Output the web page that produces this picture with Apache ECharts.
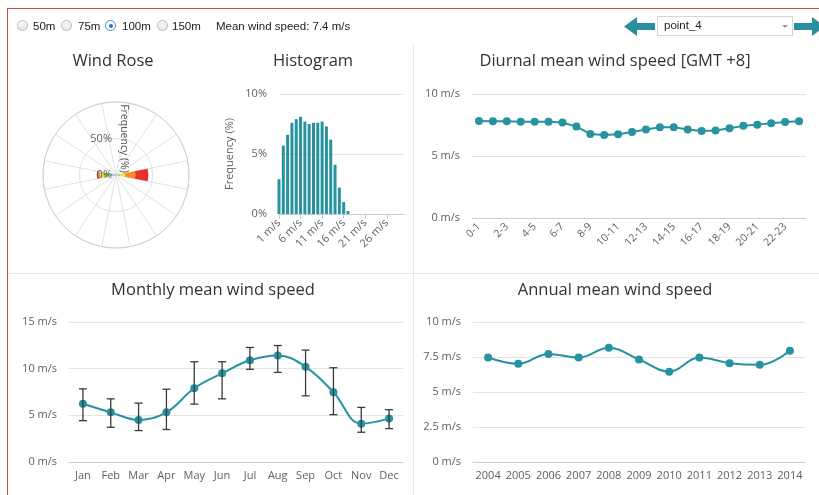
<!DOCTYPE html>
<html>
<head>
<meta charset="utf-8">
<script src="https://cdn.jsdelivr.net/npm/echarts@6/dist/echarts.min.js"></script>
<style>
html,body{margin:0;padding:0;background:#fff;}
#wrap{position:relative;width:819px;height:495px;overflow:hidden;font-family:'Liberation Sans',Arial,sans-serif;background:#fff;}
#chart{position:absolute;left:0;top:0;width:819px;height:495px;}
.frame{position:absolute;left:7px;top:8px;width:830px;height:500px;border-left:1.5px solid #c0504d;border-top:1.5px solid #c0504d;pointer-events:none;}
.vdiv{position:absolute;left:413px;top:45px;width:1px;height:450px;background:#dfe7ef;}
.hdiv{position:absolute;left:8px;top:273px;width:811px;height:1px;background:#dfe7ef;}
.radio{position:absolute;width:11px;height:11px;border-radius:50%;border:1px solid #b8b8b8;background:linear-gradient(#fafafa,#e6e6e6);box-sizing:border-box;}
.radio.sel{border:1px solid #3c8ad8;background:#fff;}
.radio.sel::after{content:'';position:absolute;left:2.5px;top:2.5px;width:4px;height:4px;border-radius:50%;background:#2f6fb5;}
.lbl{position:absolute;font-size:11.5px;color:#222;line-height:14px;}
.select{position:absolute;left:657px;top:16px;width:136px;height:20px;border:1px solid #d4d4d4;box-sizing:border-box;background:#fff;}
.select span{position:absolute;left:6px;top:2px;font-size:11.5px;color:#222;}
.caret{position:absolute;left:124px;top:8px;width:0;height:0;border-left:3px solid transparent;border-right:3px solid transparent;border-top:3px solid #999;}
svg.arrow{position:absolute;}
</style>
</head>
<body>
<div id="wrap">
  <div id="chart"></div>
  <div class="vdiv"></div>
  <div class="hdiv"></div>
  <div class="frame"></div>
  <div class="radio" style="left:17px;top:20px;"></div><div class="lbl" style="left:33px;top:19px;">50m</div>
  <div class="radio" style="left:61px;top:20px;"></div><div class="lbl" style="left:78px;top:19px;">75m</div>
  <div class="radio sel" style="left:105px;top:20px;"></div><div class="lbl" style="left:122px;top:19px;">100m</div>
  <div class="radio" style="left:157px;top:20px;"></div><div class="lbl" style="left:172px;top:19px;">150m</div>
  <div class="lbl" style="left:216px;top:19px;">Mean wind speed: 7.4 m/s</div>
  <svg class="arrow" style="left:624px;top:17px;" width="32" height="19" viewBox="0 0 32 19"><polygon points="0,9.5 13,0 13,6 31,6 31,13 13,13 13,19" fill="#2a8e9c"/></svg>
  <div class="select"><span>point_4</span><div class="caret"></div></div>
  <svg class="arrow" style="left:794px;top:17px;" width="32" height="19" viewBox="0 0 32 19"><polygon points="31,9.5 18,0 18,6 0,6 0,13 18,13 18,19" fill="#2a8e9c"/></svg>
</div>
<script>
// ---------- DATA ----------
const directions = ['N','NNE','NE','ENE','E','ESE','SE','SSE','S','SSW','SW','WSW','W','WNW','NW','NNW'];
const speedBins = ['< 2 m/s','2-4 m/s','4-6 m/s','6-8 m/s','8-10 m/s','> 10 m/s'];
const roseBin0 = [0.3,0.2,0.2,0.4,1.5,0.4,0.2,0.2,0.4,0.2,0.2,0.4,4.0,0.4,0.2,0.2];
const roseBin1 = [0.2,0.1,0.1,0.5,3.0,0.5,0.1,0.1,0.2,0.1,0.1,0.5,5.0,0.4,0.1,0.1];
const roseBin2 = [0.1,0,0,0.3,1.0,0.3,0,0,0.1,0,0,0.4,8.4,0.3,0,0];
const roseBin3 = [0,0,0,0.2,7.0,0.2,0,0,0,0,0,0.2,4.5,0.2,0,0];
const roseBin4 = [0,0,0,0.1,14.0,0.1,0,0,0,0,0,0.1,2.3,0.1,0,0];
const roseBin5 = [0,0,0,0,17.8,0,0,0,0.1,0,0,0,2.2,0,0,0];

const histSpeeds = [1,2,3,4,5,6,7,8,9,10,11,12,13,14,15,16,17];
const histFreq = [2.9,5.7,6.6,7.6,7.9,8.1,7.7,7.5,7.6,7.6,7.7,7.3,6.2,4.1,2.2,1.0,0.25];
const histTicks = [1,6,11,16,21,26];

const hours = ['0-1','1-2','2-3','3-4','4-5','5-6','6-7','7-8','8-9','9-10','10-11','11-12','12-13','13-14','14-15','15-16','16-17','17-18','18-19','19-20','20-21','21-22','22-23','23-24'];
const diurnalSpeed = [7.83,7.8,7.8,7.77,7.77,7.77,7.7,7.37,6.78,6.7,6.76,6.94,7.13,7.32,7.32,7.13,7.02,7.05,7.24,7.43,7.53,7.64,7.75,7.8];

const months = ['Jan','Feb','Mar','Apr','May','Jun','Jul','Aug','Sep','Oct','Nov','Dec'];
const monthlyMean = [6.24,5.32,4.5,5.32,7.9,9.5,10.9,11.42,10.2,7.48,4.11,4.65];
const monthlyHigh = [7.84,6.77,6.31,7.8,10.74,10.74,12.27,12.48,11.99,10.1,5.85,5.6];
const monthlyLow  = [4.43,3.72,3.37,3.48,6.2,6.77,9.93,9.6,7.09,5.07,3.19,3.58];

const years = ['2004','2005','2006','2007','2008','2009','2010','2011','2012','2013','2014'];
const annualMean = [7.46,7.01,7.72,7.46,8.16,7.32,6.45,7.46,7.06,6.94,7.95];

// ---------- STYLE ----------
const TEAL = '#2893a0';
const roseColors = ['#3d8fd6','#5cc8d2','#8cc63e','#f2e33a','#f28f1e','#e8302d'];
const titleFont = {fontFamily:'Open Sans', fontSize:16.5, fontWeight:'normal', color:'#333'};
const lblFont = {fontFamily:'Open Sans', fontSize:11, color:'#606060'};
const axisLineCol = '#c0d0e0';
const gridCol = '#e4e4e4';

const chart = echarts.init(document.getElementById('chart'), null, {renderer:'canvas'});

function catX(gridIndex, data, extra) {
  return Object.assign({
    type:'category', gridIndex, data, boundaryGap:true,
    axisLine:{lineStyle:{color:axisLineCol}},
    axisTick:{lineStyle:{color:axisLineCol}, length:5},
    axisLabel:Object.assign({}, lblFont, {margin:8, interval:0}),
    splitLine:{show:false}
  }, extra||{});
}
function valY(gridIndex, max, interval, fmt, extra) {
  return Object.assign({
    type:'value', gridIndex, min:0, max, interval,
    axisLine:{show:false}, axisTick:{show:false},
    axisLabel:Object.assign({}, lblFont, {margin:12, formatter:fmt}),
    splitLine:{lineStyle:{color:gridCol}}
  }, extra||{});
}

const roseBins = [roseBin0, roseBin1, roseBin2, roseBin3, roseBin4, roseBin5];

const option = {
  animation:false,
  backgroundColor:'transparent',
  title:[
    {text:'Wind Rose', left:113, top:53, textAlign:'center', padding:0, textStyle:titleFont},
    {text:'Histogram', left:313, top:53, textAlign:'center', padding:0, textStyle:titleFont},
    {text:'Diurnal mean wind speed [GMT +8]', left:615, top:53, textAlign:'center', padding:0, textStyle:titleFont},
    {text:'Monthly mean wind speed', left:213, top:282, textAlign:'center', padding:0, textStyle:titleFont},
    {text:'Annual mean wind speed', left:615, top:282, textAlign:'center', padding:0, textStyle:titleFont}
  ],
  polar:[
    {center:[116,175], radius:73},
    {center:[116,175], radius:73}
  ],
  angleAxis:[
    {polarIndex:0, type:'category', data:directions, startAngle:101.25, boundaryGap:true,
     axisLine:{lineStyle:{color:axisLineCol}}, axisTick:{show:false}, axisLabel:{show:false},
     splitLine:{show:true, lineStyle:{color:'#e2e2e2'}}},
    {polarIndex:1, type:'value', min:0, max:360, startAngle:90,
     axisLine:{show:false}, axisTick:{show:false}, axisLabel:{show:false}, splitLine:{show:false}}
  ],
  radiusAxis:[
    {polarIndex:0, type:'value', min:0, max:100, interval:50,
     axisLine:{show:false}, axisTick:{show:false}, axisLabel:{show:false},
     splitLine:{show:true, lineStyle:{color:'#e2e2e2'}}},
    {polarIndex:1, type:'value', min:0, max:100, interval:50, z:10,
     axisLine:{show:false}, axisTick:{show:false}, splitLine:{show:false},
     axisLabel:Object.assign({}, lblFont, {formatter:'{value}%', showMaxLabel:false, margin:4}),
     name:'Frequency (%)', nameLocation:'middle', nameGap:2, nameRotate:-90,
     nameTextStyle:Object.assign({}, lblFont, {fontSize:10.5, color:'#555'})}
  ],
  grid:[
    {left:279, right:415, top:94, bottom:281},
    {left:472, right:13, top:94, bottom:277},
    {left:69, right:416, top:322, bottom:33},
    {left:473, right:14, top:322, bottom:33}
  ],
  xAxis:[
    {type:'value', gridIndex:0, min:1, max:30,
     axisLine:{lineStyle:{color:axisLineCol}},
     axisTick:{show:true, customValues:histTicks, length:5, lineStyle:{color:axisLineCol}},
     axisLabel:Object.assign({}, lblFont, {customValues:histTicks, formatter:'{value} m/s', rotate:45, margin:7}),
     splitLine:{show:false}},
    catX(1, hours, {axisLabel:Object.assign({}, lblFont, {fontSize:10.5, rotate:45, interval:1, margin:7}),
                    axisTick:{interval:1, alignWithLabel:true, length:5, lineStyle:{color:axisLineCol}}}),
    catX(2, months),
    catX(3, years)
  ],
  yAxis:[
    valY(0, 10, 5, '{value}%', {name:'Frequency (%)', nameLocation:'middle', nameGap:44,
         nameTextStyle:Object.assign({}, lblFont)}),
    valY(1, 10, 5, '{value} m/s'),
    valY(2, 15, 5, '{value} m/s'),
    valY(3, 10, 2.5, '{value} m/s')
  ],
  series:[].concat(
    roseBins.map((bin, i) => ({
      type:'bar', coordinateSystem:'polar', polarIndex:0, name:speedBins[i],
      stack:'rose', data:bin, barCategoryGap:'0%', itemStyle:{color:roseColors[i]}, z:2
    })),
    [
      {type:'bar', xAxisIndex:0, yAxisIndex:0, barWidth:3,
       data:histSpeeds.map((s, i) => [s, histFreq[i]]), itemStyle:{color:TEAL}},
      {type:'line', xAxisIndex:1, yAxisIndex:1, data:diurnalSpeed, symbol:'circle', symbolSize:8,
       showAllSymbol:true, lineStyle:{color:TEAL, width:2}, itemStyle:{color:TEAL}},
      {type:'line', xAxisIndex:2, yAxisIndex:2, data:monthlyMean, smooth:0.4, symbol:'circle', symbolSize:8,
       lineStyle:{color:TEAL, width:2}, itemStyle:{color:TEAL}, z:3},
      {type:'custom', xAxisIndex:2, yAxisIndex:2, z:4,
       data:months.map((m, i) => [i, monthlyLow[i], monthlyHigh[i]]),
       encode:{x:0, y:[1,2]},
       renderItem:function(params, api){
         const lo = api.coord([api.value(0), api.value(1)]);
         const hi = api.coord([api.value(0), api.value(2)]);
         const w = 4;
         const st = {stroke:'#3a3a3a', lineWidth:1.3};
         return {type:'group', children:[
           {type:'line', shape:{x1:lo[0], y1:lo[1], x2:hi[0], y2:hi[1]}, style:st},
           {type:'line', shape:{x1:lo[0]-w, y1:lo[1], x2:lo[0]+w, y2:lo[1]}, style:st},
           {type:'line', shape:{x1:hi[0]-w, y1:hi[1], x2:hi[0]+w, y2:hi[1]}, style:st}
         ]};
       }},
      {type:'line', xAxisIndex:3, yAxisIndex:3, data:annualMean, smooth:0.4, symbol:'circle', symbolSize:8,
       lineStyle:{color:TEAL, width:2}, itemStyle:{color:TEAL}}
    ]
  )
};
chart.setOption(option);
</script>
</body>
</html>
